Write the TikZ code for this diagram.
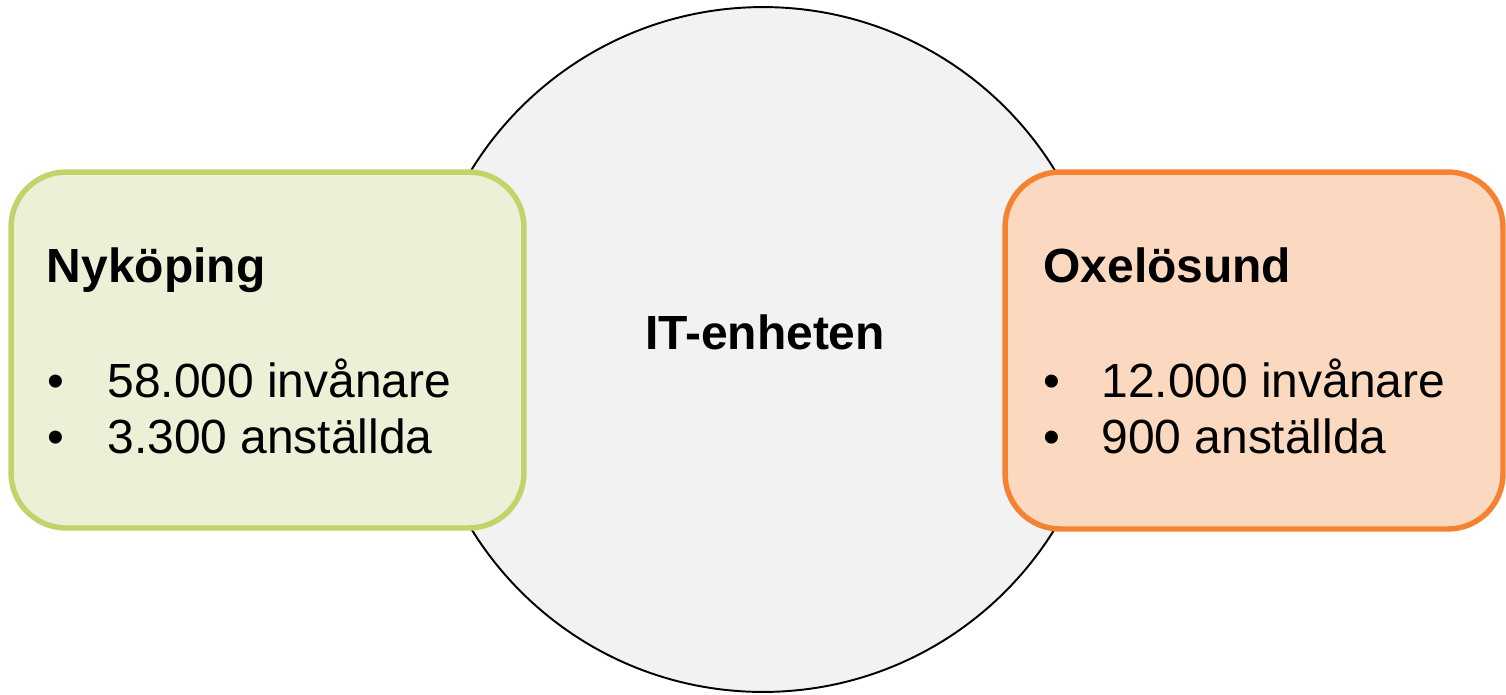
\documentclass[tikz,border=0pt]{standalone}
\usepackage{fontspec}
\setmainfont{Liberation Sans}
\usetikzlibrary{positioning}

\definecolor{nykline}{RGB}{194,211,105}
\definecolor{nykfill}{RGB}{235,240,214}
\definecolor{oxeline}{RGB}{244,130,48}
\definecolor{oxefill}{RGB}{250,217,192}
\definecolor{itfill}{RGB}{242,242,242}

\begin{document}
\begin{tikzpicture}[
      x=0.02cm, y=-0.02cm,
      town box/.style ={draw=#1line, fill=#1fill, line width=3.1pt,
                        rounded corners=1.1cm, inner sep=0pt},
      big text/.style ={font=\fontsize{27.3}{32}\selectfont, inner sep=0pt, anchor=base west},
      head text/.style ={big text, font=\fontsize{27.3}{32}\selectfont\bfseries}]
    \useasboundingbox (0,0) rectangle (1506,694);
    % the unit in the middle
    \node[circle, draw, fill=itfill, line width=1.1pt, minimum size=13.7cm, inner sep=0pt]
        (itunit) at (763,349.5) {};
    \node[head text, anchor=base] (itlabel) at (765,349) {IT-enheten};
    % the two towns
    \node[town box=nyk, minimum width=10.26cm, minimum height=7.12cm] (nykoping) at (267.5,350) {};
    \node[town box=oxe, minimum width=9.96cm, minimum height=7.14cm] (oxelosund) at (1254,350.5) {};
    \node[head text] (nykhead) at (46.5,282) {Nyköping};
    \node[big text] (nykdot1) at (47.5,397) {•};
    \node[big text] (nykdot2) at (47.5,453) {•};
    \node[big text] (nykpop) at (107,397) {58.000 invånare};
    \node[big text] (nykstaff) at (107,453) {3.300 anställda};
    \node[head text] (oxehead) at (1043,282) {Oxelösund};
    \node[big text] (oxedot1) at (1043.5,397) {•};
    \node[big text] (oxedot2) at (1043.5,453) {•};
    \node[big text] (oxepop) at (1101,397) {12.000 invånare};
    \node[big text] (oxestaff) at (1101,453) {900 anställda};
\end{tikzpicture}
\end{document}
